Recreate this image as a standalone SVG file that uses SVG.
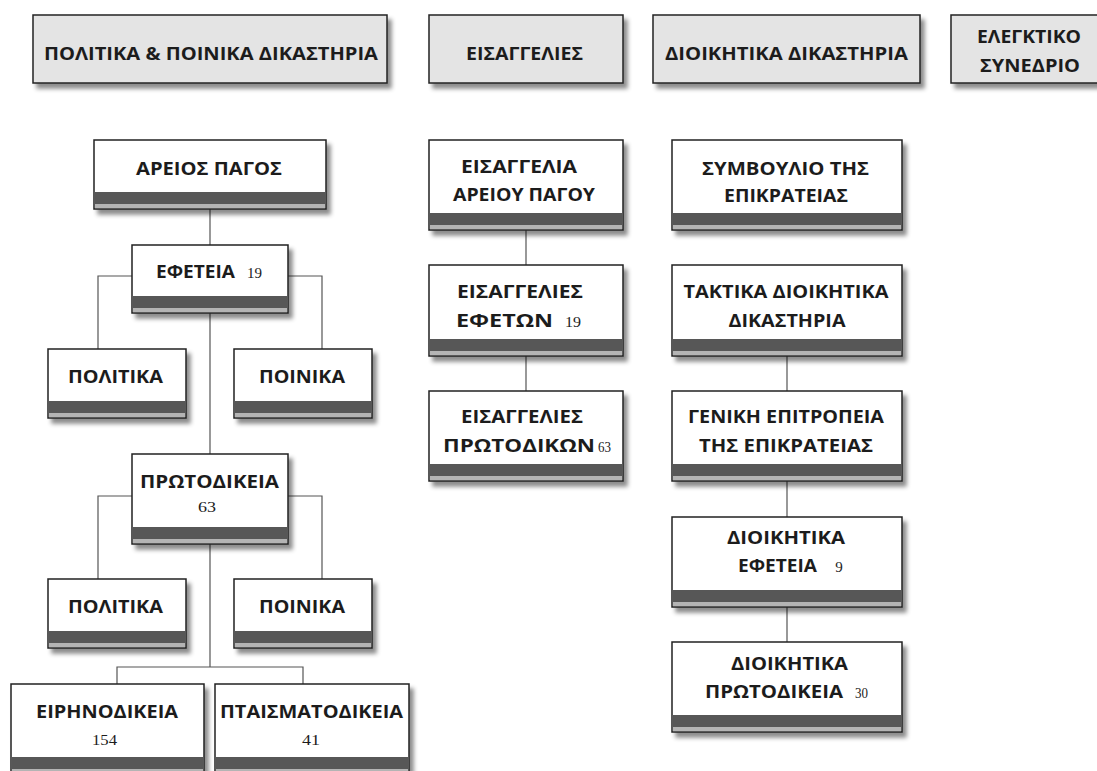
<svg xmlns="http://www.w3.org/2000/svg" width="1097" height="771" viewBox="0 0 1097 771">
<style>
.hd{fill:#e4e4e4;stroke:#222;stroke-width:1.5;filter:url(#sh)}
.bx{fill:#fff;stroke:#222;stroke-width:1.5;filter:url(#sh)}
.dk{fill:#575757}
.lt{fill:#b4b4b4}
.t{font-family:"Open Sans","Liberation Sans",sans-serif;font-weight:700;font-size:18px;fill:#1c1c1c;text-anchor:middle}
.n{font-family:"Liberation Serif",serif;font-size:15px;fill:#1c1c1c;text-anchor:middle}
.c{stroke:#555;stroke-width:1.2;fill:none}
</style>
<defs>
<filter id="sh" x="-10%" y="-20%" width="130%" height="150%">
<feDropShadow dx="4" dy="5" stdDeviation="2.2" flood-color="#000" flood-opacity="0.45"/>
</filter>
</defs>
<rect width="1097" height="771" fill="#fff"/>

<g id="connectors">
<path class="c" d="M210 209V245M132 276H98V349M288 276H322V349M210 313V454M132 496H98V579M288 496H322V579M210 544V667M117 684V667H303V684"/>
<path class="c" d="M526 230V265M526 356V391"/>
<path class="c" d="M787 356V391M787 481V517M787 607V642"/>
</g>

<g id="h-politika">
<rect class="hd" x="33" y="15" width="354" height="68"/>
<text class="t" x="211" y="60" textLength="334" lengthAdjust="spacingAndGlyphs">ΠΟΛΙΤΙΚΑ &amp; ΠΟΙΝΙΚΑ ΔΙΚΑΣΤΗΡΙΑ</text>
</g>
<g id="h-eisaggelies">
<rect class="hd" x="429" y="15" width="194" height="68"/>
<text class="t" x="524.5" y="60" textLength="117" lengthAdjust="spacingAndGlyphs">ΕΙΣΑΓΓΕΛΙΕΣ</text>
</g>
<g id="h-dioikitika">
<rect class="hd" x="653" y="15" width="267" height="68"/>
<text class="t" x="786.5" y="60" textLength="243" lengthAdjust="spacingAndGlyphs">ΔΙΟΙΚΗΤΙΚΑ ΔΙΚΑΣΤΗΡΙΑ</text>
</g>
<g id="h-elegktiko">
<rect class="hd" x="951" y="15" width="156" height="68"/>
<text class="t" x="1029" y="43" textLength="104" lengthAdjust="spacingAndGlyphs">ΕΛΕΓΚΤΙΚΟ</text>
<text class="t" x="1030" y="72" textLength="100" lengthAdjust="spacingAndGlyphs">ΣΥΝΕΔΡΙΟ</text>
</g>

<g id="areios-pagos">
<rect class="bx" x="94" y="140" width="232" height="69"/>
<rect class="dk" x="95" y="192" width="230" height="12"/><rect class="lt" x="95" y="204" width="230" height="4"/>
<text class="t" x="209" y="175" textLength="146" lengthAdjust="spacingAndGlyphs">ΑΡΕΙΟΣ ΠΑΓΟΣ</text>
</g>
<g id="efeteia">
<rect class="bx" x="132" y="245" width="156" height="68"/>
<rect class="dk" x="133" y="296" width="154" height="12"/><rect class="lt" x="133" y="308" width="154" height="4"/>
<text class="t" x="195.5" y="278" textLength="79" lengthAdjust="spacingAndGlyphs">ΕΦΕΤΕΙΑ</text>
<text class="n" x="254.5" y="278" textLength="15" lengthAdjust="spacingAndGlyphs">19</text>
</g>
<g id="politika-1">
<rect class="bx" x="48" y="349" width="138" height="69"/>
<rect class="dk" x="49" y="401" width="136" height="12"/><rect class="lt" x="49" y="413" width="136" height="4"/>
<text class="t" x="115.5" y="383" textLength="95" lengthAdjust="spacingAndGlyphs">ΠΟΛΙΤΙΚΑ</text>
</g>
<g id="poinika-1">
<rect class="bx" x="234" y="349" width="138" height="69"/>
<rect class="dk" x="235" y="401" width="136" height="12"/><rect class="lt" x="235" y="413" width="136" height="4"/>
<text class="t" x="302" y="383" textLength="86" lengthAdjust="spacingAndGlyphs">ΠΟΙΝΙΚΑ</text>
</g>
<g id="protodikeia">
<rect class="bx" x="132" y="454" width="156" height="90"/>
<rect class="dk" x="133" y="527" width="154" height="12"/><rect class="lt" x="133" y="539" width="154" height="4"/>
<text class="t" x="209.5" y="488" textLength="139" lengthAdjust="spacingAndGlyphs">ΠΡΩΤΟΔΙΚΕΙΑ</text>
<text class="n" x="207" y="512" textLength="18" lengthAdjust="spacingAndGlyphs">63</text>
</g>
<g id="politika-2">
<rect class="bx" x="48" y="579" width="138" height="69"/>
<rect class="dk" x="49" y="631" width="136" height="12"/><rect class="lt" x="49" y="643" width="136" height="4"/>
<text class="t" x="115.5" y="613" textLength="95" lengthAdjust="spacingAndGlyphs">ΠΟΛΙΤΙΚΑ</text>
</g>
<g id="poinika-2">
<rect class="bx" x="234" y="579" width="138" height="69"/>
<rect class="dk" x="235" y="631" width="136" height="12"/><rect class="lt" x="235" y="643" width="136" height="4"/>
<text class="t" x="302" y="613" textLength="86" lengthAdjust="spacingAndGlyphs">ΠΟΙΝΙΚΑ</text>
</g>
<g id="eirinodikeia">
<rect class="bx" x="11" y="684" width="193" height="90"/>
<rect class="dk" x="12" y="757" width="191" height="12"/><rect class="lt" x="12" y="769" width="191" height="4"/>
<text class="t" x="107" y="718" textLength="142" lengthAdjust="spacingAndGlyphs">ΕΙΡΗΝΟΔΙΚΕΙΑ</text>
<text class="n" x="104.5" y="745" textLength="25" lengthAdjust="spacingAndGlyphs">154</text>
</g>
<g id="ptaismatodikeia">
<rect class="bx" x="215" y="684" width="194" height="90"/>
<rect class="dk" x="216" y="757" width="192" height="12"/><rect class="lt" x="216" y="769" width="192" height="4"/>
<text class="t" x="311.5" y="718" textLength="183" lengthAdjust="spacingAndGlyphs">ΠΤΑΙΣΜΑΤΟΔΙΚΕΙΑ</text>
<text class="n" x="311" y="745" textLength="18" lengthAdjust="spacingAndGlyphs">41</text>
</g>

<g id="eisaggelia-areiou-pagou">
<rect class="bx" x="429" y="140" width="194" height="90"/>
<rect class="dk" x="430" y="213" width="192" height="12"/><rect class="lt" x="430" y="225" width="192" height="4"/>
<text class="t" x="519" y="173" textLength="116" lengthAdjust="spacingAndGlyphs">ΕΙΣΑΓΓΕΛΙΑ</text>
<text class="t" x="524" y="201" textLength="142" lengthAdjust="spacingAndGlyphs">ΑΡΕΙΟΥ ΠΑΓΟΥ</text>
</g>
<g id="eisaggelies-efeton">
<rect class="bx" x="429" y="265" width="194" height="91"/>
<rect class="dk" x="430" y="339" width="192" height="12"/><rect class="lt" x="430" y="351" width="192" height="4"/>
<text class="t" x="520" y="298" textLength="126" lengthAdjust="spacingAndGlyphs">ΕΙΣΑΓΓΕΛΙΕΣ</text>
<text class="t" x="504.5" y="327" textLength="97" lengthAdjust="spacingAndGlyphs">ΕΦΕΤΩΝ</text>
<text class="n" x="573" y="327" textLength="16" lengthAdjust="spacingAndGlyphs">19</text>
</g>
<g id="eisaggelies-protodikon">
<rect class="bx" x="429" y="391" width="194" height="90"/>
<rect class="dk" x="430" y="464" width="192" height="12"/><rect class="lt" x="430" y="476" width="192" height="4"/>
<text class="t" x="522" y="423" textLength="122" lengthAdjust="spacingAndGlyphs">ΕΙΣΑΓΓΕΛΙΕΣ</text>
<text class="t" x="519" y="452" textLength="152" lengthAdjust="spacingAndGlyphs">ΠΡΩΤΟΔΙΚΩΝ</text>
<text class="n" x="604.5" y="452" textLength="13" lengthAdjust="spacingAndGlyphs">63</text>
</g>

<g id="symvoulio">
<rect class="bx" x="672" y="140" width="230" height="90"/>
<rect class="dk" x="673" y="213" width="228" height="12"/><rect class="lt" x="673" y="225" width="228" height="4"/>
<text class="t" x="785.5" y="175" textLength="167" lengthAdjust="spacingAndGlyphs">ΣΥΜΒΟΥΛΙΟ ΤΗΣ</text>
<text class="t" x="786" y="202" textLength="124" lengthAdjust="spacingAndGlyphs">ΕΠΙΚΡΑΤΕΙΑΣ</text>
</g>
<g id="taktika">
<rect class="bx" x="672" y="265" width="230" height="91"/>
<rect class="dk" x="673" y="339" width="228" height="12"/><rect class="lt" x="673" y="351" width="228" height="4"/>
<text class="t" x="786" y="298" textLength="205" lengthAdjust="spacingAndGlyphs">ΤΑΚΤΙΚΑ ΔΙΟΙΚΗΤΙΚΑ</text>
<text class="t" x="787" y="327" textLength="117" lengthAdjust="spacingAndGlyphs">ΔΙΚΑΣΤΗΡΙΑ</text>
</g>
<g id="geniki">
<rect class="bx" x="672" y="391" width="230" height="90"/>
<rect class="dk" x="673" y="464" width="228" height="12"/><rect class="lt" x="673" y="476" width="228" height="4"/>
<text class="t" x="786" y="423" textLength="196" lengthAdjust="spacingAndGlyphs">ΓΕΝΙΚΗ ΕΠΙΤΡΟΠΕΙΑ</text>
<text class="t" x="786" y="452" textLength="174" lengthAdjust="spacingAndGlyphs">ΤΗΣ ΕΠΙΚΡΑΤΕΙΑΣ</text>
</g>
<g id="dioik-efeteia">
<rect class="bx" x="672" y="517" width="230" height="90"/>
<rect class="dk" x="673" y="590" width="228" height="12"/><rect class="lt" x="673" y="602" width="228" height="4"/>
<text class="t" x="786" y="544" textLength="118" lengthAdjust="spacingAndGlyphs">ΔΙΟΙΚΗΤΙΚΑ</text>
<text class="t" x="777.5" y="572" textLength="79" lengthAdjust="spacingAndGlyphs">ΕΦΕΤΕΙΑ</text>
<text class="n" x="839" y="572">9</text>
</g>
<g id="dioik-protodikeia">
<rect class="bx" x="672" y="642" width="230" height="90"/>
<rect class="dk" x="673" y="715" width="228" height="12"/><rect class="lt" x="673" y="727" width="228" height="4"/>
<text class="t" x="789.5" y="670" textLength="117" lengthAdjust="spacingAndGlyphs">ΔΙΟΙΚΗΤΙΚΑ</text>
<text class="t" x="774" y="698" textLength="138" lengthAdjust="spacingAndGlyphs">ΠΡΩΤΟΔΙΚΕΙΑ</text>
<text class="n" x="861.5" y="698" textLength="13" lengthAdjust="spacingAndGlyphs">30</text>
</g>
</svg>
